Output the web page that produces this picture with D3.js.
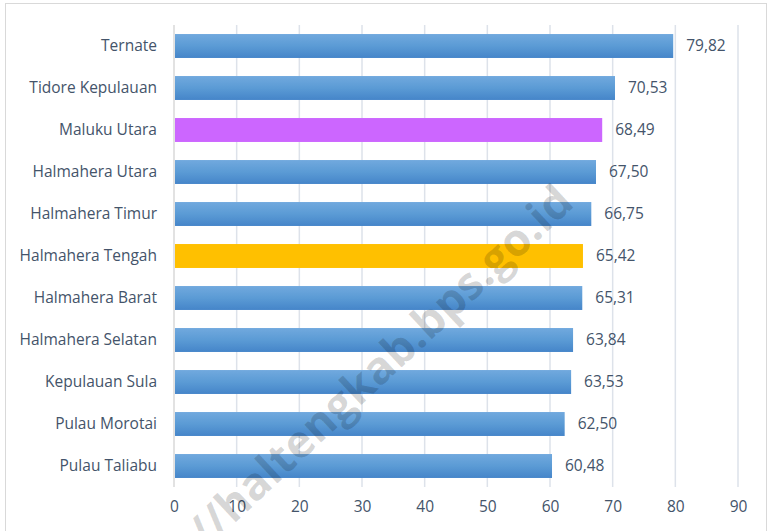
<!DOCTYPE html>
<html lang="id">
<head>
    <meta charset="utf-8">
    <title>Bar Chart</title>
    <style>
        body { margin: 0; background: #fff; }
        .label { font: 15.5px "Open Sans", sans-serif; fill: #44546a; }
        .grid line { stroke: #dde2ea; stroke-width: 1.5px; }
        .watermark { font: bold 45px "Open Sans", sans-serif; fill: #000; fill-opacity: 0.16; }
    </style>
</head>
<body>

<script src="https://cdn.jsdelivr.net/npm/d3@7"></script>

<script>

    var categories = ["Ternate", "Tidore Kepulauan", "Maluku Utara", "Halmahera Utara",
        "Halmahera Timur", "Halmahera Tengah", "Halmahera Barat", "Halmahera Selatan",
        "Kepulauan Sula", "Pulau Morotai", "Pulau Taliabu"];
    var values = [79.82, 70.53, 68.49, 67.50, 66.75, 65.42, 65.31, 63.84, 63.53, 62.50, 60.48];
    var tickValues = [0, 10, 20, 30, 40, 50, 60, 70, 80, 90];

    var W = 769, H = 531;
    var margin = {top: 25, right: 31, bottom: 44, left: 174},
        width = W - margin.left - margin.right,
        height = H - margin.top - margin.bottom;

    var fmt = d3.formatLocale({decimal: ",", thousands: ".", grouping: [3], currency: ["", ""]}).format(".2f");

    var svg = d3.select("body").append("svg")
        .attr("width", W)
        .attr("height", H);

    // gradient for the ordinary bars
    var grad = svg.append("defs").append("linearGradient")
        .attr("id", "barGrad")
        .attr("x1", 0).attr("y1", 0).attr("x2", 0).attr("y2", 1);
    grad.append("stop").attr("offset", "0%").attr("stop-color", "#71a9de");
    grad.append("stop").attr("offset", "50%").attr("stop-color", "#5b9bd5");
    grad.append("stop").attr("offset", "100%").attr("stop-color", "#4585c9");

    // outer frame
    svg.append("rect")
        .attr("x", 5.5).attr("y", 3.5)
        .attr("width", 761).attr("height", 540)
        .attr("fill", "none")
        .attr("stroke", "#d9d9d9");

    var g = svg.append("g")
        .attr("transform", "translate(" + margin.left + "," + margin.top + ")");

    var x = d3.scaleLinear().domain([0, 90]).range([0, width]);
    var y = d3.scaleBand().domain(categories).range([0, height])
        .paddingInner(0.43).paddingOuter(0.215);

    // gridlines
    g.append("g").attr("class", "grid")
        .selectAll("line")
        .data(tickValues.slice(1))
        .enter().append("line")
        .attr("x1", function(d) { return x(d); })
        .attr("x2", function(d) { return x(d); })
        .attr("y1", 0).attr("y2", height);

    // category axis line
    g.append("line")
        .attr("x1", 0).attr("x2", 0)
        .attr("y1", 0).attr("y2", height)
        .attr("stroke", "#d9d9d9").attr("stroke-width", 1.5);

    function barColor(d) {
        if (d === "Maluku Utara") return "#cc66ff";
        if (d === "Halmahera Tengah") return "#ffc000";
        return "url(#barGrad)";
    }

    g.selectAll("rect.bar")
        .data(categories)
        .enter().append("rect")
        .attr("class", "bar")
        .attr("x", x(0) + 1)
        .attr("y", function(d) { return y(d); })
        .attr("width", function(d, i) { return x(values[i]) - x(0) - 2; })
        .attr("height", y.bandwidth())
        .attr("fill", barColor);

    // value labels
    g.selectAll("text.val")
        .data(categories)
        .enter().append("text")
        .attr("class", "label")
        .attr("x", function(d, i) { return x(values[i]) + 12; })
        .attr("y", function(d) { return y(d) + y.bandwidth() / 2; })
        .attr("dy", "0.35em")
        .text(function(d, i) { return fmt(values[i]); });

    // category labels
    g.selectAll("text.cat")
        .data(categories)
        .enter().append("text")
        .attr("class", "label")
        .attr("x", -17)
        .attr("y", function(d) { return y(d) + y.bandwidth() / 2; })
        .attr("dy", "0.35em")
        .attr("text-anchor", "end")
        .text(function(d) { return d; });

    // x axis
    var xAxis = g.append("g")
        .attr("transform", "translate(0," + height + ")")
        .call(d3.axisBottom(x).tickValues(tickValues).tickSize(0).tickPadding(14));
    xAxis.select(".domain").remove();
    xAxis.selectAll("text")
        .attr("class", "label")
        .attr("fill", null);

    // watermark
    svg.append("text")
        .attr("class", "watermark")
        .attr("transform", "translate(206,550) rotate(-43)")
        .text("//haltengkab.bps.go.id");

</script>

</body>
</html>
